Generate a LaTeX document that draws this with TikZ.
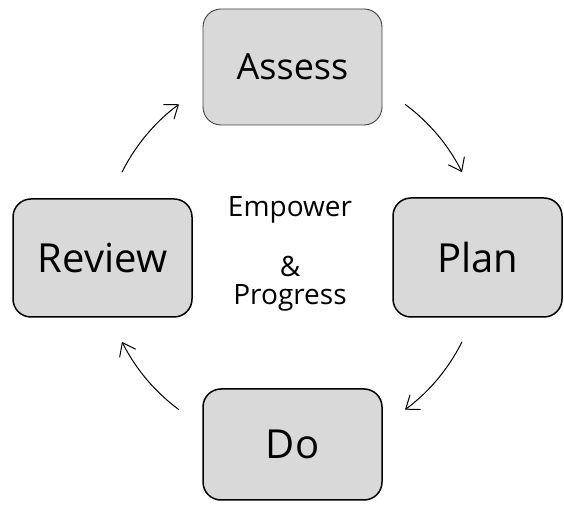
\documentclass[tikz,border=0pt]{standalone}
\usepackage{fontspec}
\setmainfont{Open Sans}
\usetikzlibrary{arrows.meta}
\tikzset{stage/.style={draw=black, line width=1.5pt, fill={rgb,255:red,217;green,217;blue,217}, rounded corners=18pt, font=\fontsize{40}{48}\selectfont, inner sep=0pt},
         cyc/.style={black, line width=1pt, -{Straight Barb[length=12pt,width=18pt,line width=1pt]}},
         core/.style={font=\fontsize{28}{32}\selectfont, anchor=base, inner sep=0pt}}

\begin{document}
\begin{tikzpicture}[x=1pt,y=1pt]
  \useasboundingbox (0,0) rectangle (564,505);

  \node[stage, draw={rgb,255:red,64;green,64;blue,64}, line width=0.9pt, minimum width=179pt, minimum height=116pt, font=\fontsize{36}{44}\selectfont] (assess) at (292.5,438) {Assess};
  \node[stage, minimum width=169pt, minimum height=119pt] (plan)   at (477.5,247.5) {Plan};
  \node[stage, minimum width=179pt, minimum height=111pt] (do)     at (292.5,60.5) {Do};
  \node[stage, minimum width=179pt, minimum height=118pt] (review) at (102.5,247) {Review};

  \node[core] (emp)  at (290,288) {Empower};
  \node[core] (amp)  at (290,228) {\&};
  \node[core] (prog) at (290,200) {Progress};

  \coordinate (hub) at (292,248);
  \foreach \a in {53.5,-26.5,233.5,153.5}
    \draw[cyc] ([shift={(\a:190)}]hub) arc[start angle=\a, delta angle=-27, radius=190];
\end{tikzpicture}
\end{document}
